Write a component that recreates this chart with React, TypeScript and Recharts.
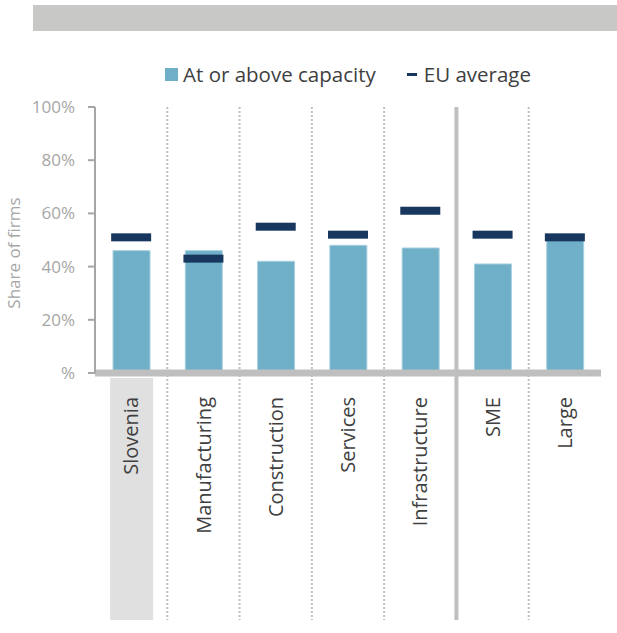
import React from 'react';
import { ComposedChart, Bar, Scatter, XAxis, YAxis, ReferenceLine, Legend } from 'recharts';

const categories = ['Slovenia', 'Manufacturing', 'Construction', 'Services', 'Infrastructure', 'SME', 'Large'];
const atOrAboveCapacity = [46, 46, 42, 48, 47, 41, 50];
const euAverage = [51, 43, 55, 52, 61, 52, 51];
const yTicks = [0, 20, 40, 60, 80, 100];

const data = categories.map((name, i) => ({ name, cap: atOrAboveCapacity[i], eu: euAverage[i] }));

const W = 617;
const H = 633;
const LEFT = 95;
const RIGHT = 16;
const TOP = 107;
const XAXIS_H = 250;
const BOTTOM_M = 10;
const PLOT_BOTTOM = H - BOTTOM_M - XAXIS_H; // 373
const LABEL_BOTTOM = 620;
const BAND = (W - LEFT - RIGHT) / categories.length;

const FONT = '"Open Sans", "Noto Sans", sans-serif';
const BAR_COLOR = '#6fafc8';
const EU_COLOR = '#17375e';
const GRID_COLOR = '#bfbfbf';

const XTick = (props: any) => {
  const { x, payload, index } = props;
  const ty = PLOT_BOTTOM + 24;
  const isLast = index === categories.length - 1;
  const solid = index === 4;
  return (
    <g>
      {index === 0 && (
        <rect x={x - 21} y={PLOT_BOTTOM + 5} width={43} height={LABEL_BOTTOM - PLOT_BOTTOM - 5} fill="#e0e0e0" />
      )}
      {!isLast && (
        <line
          x1={x + BAND / 2}
          x2={x + BAND / 2}
          y1={TOP}
          y2={LABEL_BOTTOM}
          stroke={GRID_COLOR}
          strokeWidth={solid ? 4 : 2}
          strokeDasharray={solid ? undefined : '2 2'}
        />
      )}
      <text
        x={x}
        y={ty}
        dy="0.36em"
        textAnchor="end"
        transform={`rotate(-90, ${x}, ${ty})`}
        fill="#404040"
        fontSize={20}
        fontFamily={FONT}
      >
        {payload.value}
      </text>
    </g>
  );
};

const EuMarker = (props: any) => {
  const { cx, cy } = props;
  if (cx == null || cy == null) return null;
  return <rect x={cx - 20} y={cy - 4} width={40} height={8} fill={EU_COLOR} />;
};

const LegendContent = () => (
  <div
    style={{
      display: 'flex',
      justifyContent: 'center',
      alignItems: 'center',
      fontFamily: FONT,
      fontSize: 20.5,
      color: '#404040',
      whiteSpace: 'nowrap',
    }}
  >
    <span style={{ display: 'inline-block', width: 13, height: 13, background: BAR_COLOR, marginRight: 5 }} />
    <span>At or above capacity</span>
    <span style={{ display: 'inline-block', width: 10, height: 3, background: EU_COLOR, marginLeft: 31, marginRight: 7 }} />
    <span>EU average</span>
  </div>
);

const YLabel = (props: any) => {
  const { viewBox } = props;
  const cx = 14;
  const cy = viewBox.y + viewBox.height / 2 + 13;
  return (
    <text
      x={cx}
      y={cy}
      dy="0.36em"
      textAnchor="middle"
      transform={`rotate(-90, ${cx}, ${cy})`}
      fill="#a6a6a6"
      fontSize={17}
      fontFamily={FONT}
    >
      Share of firms
    </text>
  );
};

export default function App() {
  return (
    <div style={{ position: 'absolute', left: 0, top: 0, width: W, height: H, background: '#ffffff', overflow: 'hidden' }}>
      <div style={{ position: 'absolute', left: 33, top: 5, width: W - 33, height: 26, background: '#c8c8c6' }} />
      <ComposedChart
        width={W}
        height={H}
        data={data}
        margin={{ top: TOP, right: RIGHT, bottom: BOTTOM_M, left: 0 }}
        barCategoryGap={0}
      >
        <XAxis
          dataKey="name"
          interval={0}
          height={XAXIS_H}
          tickLine={false}
          axisLine={false}
          tick={<XTick />}
        />
        <YAxis
          width={LEFT}
          domain={[0, 100]}
          ticks={yTicks}
          interval={0}
          tickFormatter={(v: number) => (v === 0 ? '%' : `${v}%`)}
          axisLine={{ stroke: '#a6a6a6', strokeWidth: 2 }}
          tickLine={{ stroke: '#a6a6a6', strokeWidth: 2 }}
          tickSize={7}
          tickMargin={13}
          tick={{ fill: '#a6a6a6', fontSize: 17, fontFamily: FONT }}
          label={<YLabel />}
        />
        <Legend
          verticalAlign="middle"
          layout="horizontal"
          content={<LegendContent />}
          wrapperStyle={{ top: 60, left: LEFT, width: W - LEFT - RIGHT, height: 28 }}
        />
        <Bar
          dataKey="cap"
          name="At or above capacity"
          fill={BAR_COLOR}
          stroke="#a9d1df"
          strokeWidth={1}
          barSize={37}
          isAnimationActive={false}
        />
        <Scatter dataKey="eu" name="EU average" shape={<EuMarker />} isAnimationActive={false} />
        <ReferenceLine y={0} stroke={GRID_COLOR} strokeWidth={7} ifOverflow="visible" />
      </ComposedChart>
    </div>
  );
}
